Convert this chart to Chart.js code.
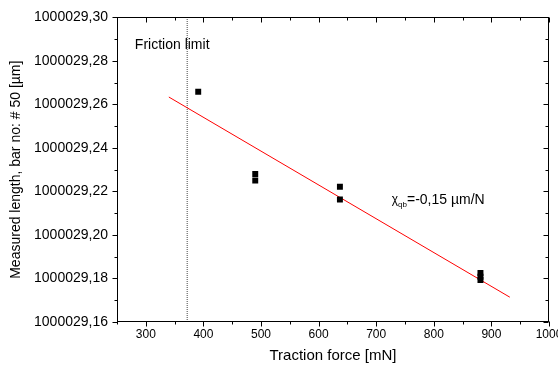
<!DOCTYPE html>
<html>
<head>
<meta charset="utf-8">
<script src="https://cdn.jsdelivr.net/npm/chart.js@4.4.1/dist/chart.umd.min.js"></script>
<style>
  html, body { margin: 0; padding: 0; background: #fff; overflow: hidden; }
  #wrap { position: relative; width: 570px; height: 365px; }
</style>
</head>
<body>
<div id="wrap"><canvas id="c"></canvas></div>
<script>
// ---- data ----
const forceX   = [391, 490, 490, 637, 637, 881, 881, 881];
const lengthY  = [1000029.2658, 1000029.2280, 1000029.2250, 1000029.2222, 1000029.2163, 1000029.1825, 1000029.1808, 1000029.1793];
const fitX     = [340, 932];
const fitY     = [1000029.2634, 1000029.1714];
const frictionX = [372, 372];
const frictionY = [1000029.16, 1000029.30];
const xRange = [250, 1000];
const yRange = [1000029.16, 1000029.30];
const xTitle = 'Traction force [mN]';
const yTitle = 'Measured length, bar no: # 50 [µm]';
const frictionLabel = 'Friction limit';
const slopeLabelMain = '=-0,15 µm/N';
const slopeLabelChi = 'χ';
const slopeLabelSub = 'qb';

const FONT = "'Liberation Sans', Arial, sans-serif";

const pts = forceX.map((x, i) => ({x, y: lengthY[i]}));
const fit = fitX.map((x, i) => ({x, y: fitY[i]}));
const fric = frictionX.map((x, i) => ({x, y: frictionY[i]}));

const decor = {
  id: 'decor',
  afterDatasetsDraw(chart) {
    const {ctx, chartArea: a, scales: {x, y}} = chart;
    ctx.save();
    // labels
    ctx.fillStyle = '#000';
    ctx.textBaseline = 'alphabetic';
    ctx.textAlign = 'left';
    ctx.font = '14px ' + FONT;
    ctx.fillText(frictionLabel, x.getPixelForValue(281), y.getPixelForValue(1000029.2854));
    let px = x.getPixelForValue(727), py = y.getPixelForValue(1000029.2142);
    ctx.font = '12px ' + FONT;
    ctx.fillText(slopeLabelChi, px, py - 1);
    let w = ctx.measureText(slopeLabelChi).width;
    ctx.font = '8px ' + FONT;
    ctx.fillText(slopeLabelSub, px + w, py + 3);
    w += ctx.measureText(slopeLabelSub).width;
    ctx.font = '14px ' + FONT;
    ctx.fillText(slopeLabelMain, px + w, py);

    // frame
    ctx.strokeStyle = '#000';
    ctx.lineWidth = 1;
    const L = Math.round(a.left) + 0.5, R = Math.round(a.right) - 0.5;
    const T = Math.round(a.top) + 0.5, B = Math.round(a.bottom) - 0.5;
    ctx.strokeRect(L, T, R - L, B - T);
    ctx.beginPath();
    x.ticks.forEach(t => {
      const major = Math.round(t.value) % 100 === 0;
      const p = Math.round(x.getPixelForValue(t.value)) + 0.5;
      const len = major ? 5 : 3;
      ctx.moveTo(p, B); ctx.lineTo(p, B + len);
      ctx.moveTo(p, T); ctx.lineTo(p, T + len);
    });
    y.ticks.forEach(t => {
      const major = Math.round(t.value * 100) % 2 === 0;
      const p = Math.round(y.getPixelForValue(t.value)) + 0.5;
      const len = major ? 5 : 3;
      ctx.moveTo(L, p); ctx.lineTo(L - len, p);
      ctx.moveTo(R, p); ctx.lineTo(R - len, p);
    });
    ctx.stroke();
    ctx.restore();
  }
};

new Chart(document.getElementById('c'), {
  type: 'scatter',
  data: {
    datasets: [
      { data: fric, type: 'line', borderColor: '#808080', borderWidth: 1.5, borderDash: [1, 1], pointRadius: 0, order: 3 },
      { data: fit, type: 'line', borderColor: '#ff0000', borderWidth: 1, pointRadius: 0, order: 2 },
      { data: pts, pointStyle: 'rect', pointRadius: 4.2, pointBorderWidth: 0, backgroundColor: '#000', borderColor: '#000', order: 1 }
    ]
  },
  options: {
    responsive: true,
    maintainAspectRatio: false,
    animation: false,
    events: [],
    layout: { padding: { top: 16, right: 21, bottom: 0, left: 0 } },
    plugins: { legend: { display: false }, tooltip: { enabled: false } },
    scales: {
      x: {
        type: 'linear', min: xRange[0], max: xRange[1],
        afterFit(s) { s.height = 43; },
        grid: { display: false, drawTicks: false },
        border: { display: false },
        ticks: {
          stepSize: 50, padding: 5, color: '#000', maxRotation: 0, autoSkip: false,
          font: { family: FONT, size: 12 },
          callback: v => (Math.round(v) % 100 === 0 ? String(Math.round(v)) : '')
        },
        title: { display: true, text: xTitle, color: '#000', font: { family: FONT, size: 15 }, padding: { top: 2, bottom: 0 } }
      },
      y: {
        type: 'linear', min: yRange[0], max: yRange[1],
        afterFit(s) { s.width = 117; },
        grid: { display: false, drawTicks: false },
        border: { display: false },
        ticks: {
          stepSize: 0.01, padding: 9, color: '#000', autoSkip: false,
          font: { family: FONT, size: 14 },
          callback: v => (Math.round(v * 100) % 2 === 0 ? v.toFixed(2).replace('.', ',') : '')
        },
        title: { display: true, text: yTitle, color: '#000', font: { family: FONT, size: 14 }, padding: { top: 8, bottom: 8 } }
      }
    }
  },
  plugins: [decor]
});
</script>
</body>
</html>
